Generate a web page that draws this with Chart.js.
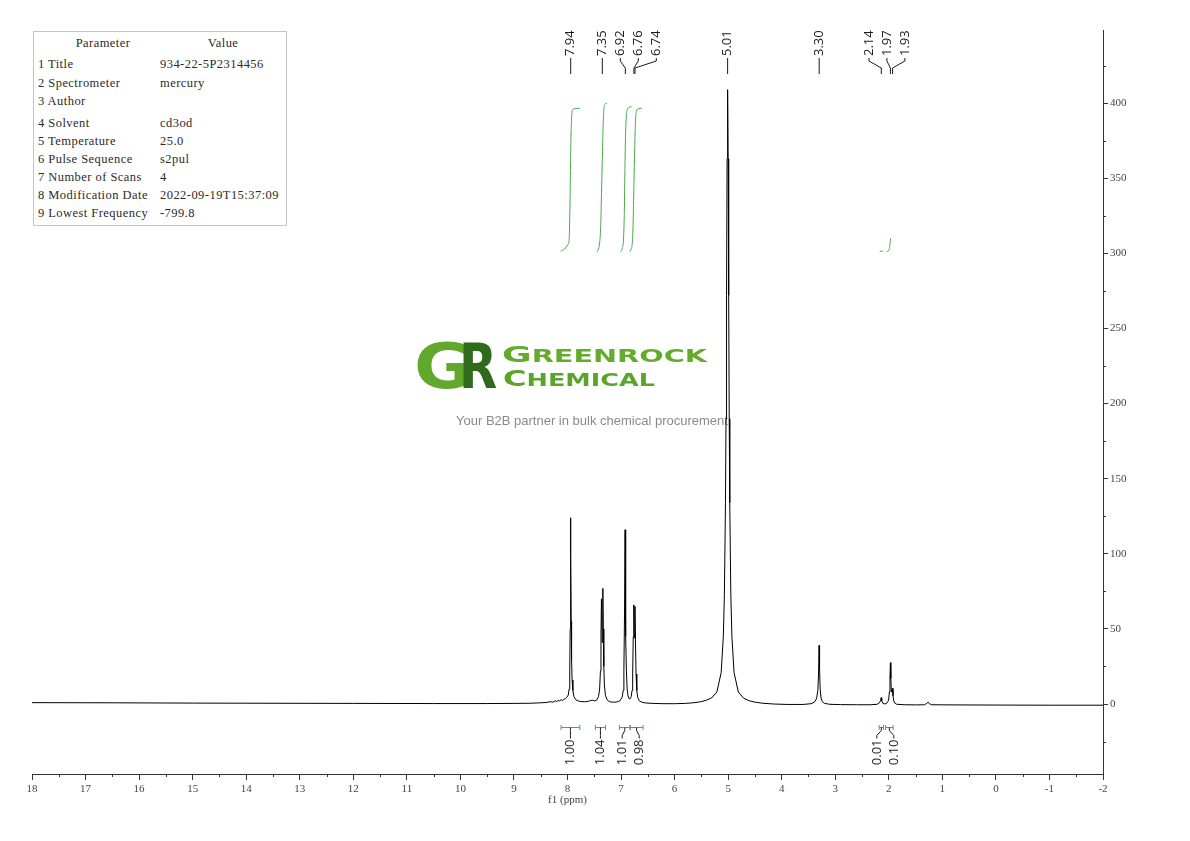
<!DOCTYPE html>
<html>
<head>
<meta charset="utf-8">
<title>1H NMR - 934-22-5P2314456</title>
<style>
    body { margin: 0; background: #fff; overflow: hidden; }
    #wrap { position: relative; width: 1190px; height: 841px; }
    #params {
        position: absolute; left: 33px; top: 31px; width: 252px;
        border: 1px solid #c4c4c4; background: #fff;
        font-family: "Liberation Serif", serif; font-size: 12.5px; letter-spacing: 0.45px;
        color: #2a2a2a; padding-bottom: 3px;
    }
    #params .row { display: flex; height: 18px; line-height: 18px; white-space: nowrap; }
    #params .name { width: 122px; padding-left: 4px; }
    #params .head .name { text-align: center; padding-left: 12px; width: 114px; }
    #params .head .val { text-align: center; flex: 1; }
    #params .head { height: 22px; line-height: 22px; }
    #params .first { height: 20px; line-height: 20px; }
    #params .gap { height: 22px; line-height: 18px; padding-top: 4px; box-sizing: border-box; }
    #nmr { position: absolute; left: 0; top: 0; }
</style>
<script src="https://cdn.jsdelivr.net/npm/chart.js"></script>
</head>
<body>
<div id="wrap">
    <canvas id="nmr" width="1190" height="841"></canvas>
    <div id="params"></div>
</div>

<script>
// acquisition parameters
const paramNames = ['Title', 'Spectrometer', 'Author', 'Solvent', 'Temperature',
    'Pulse Sequence', 'Number of Scans', 'Modification Date', 'Lowest Frequency'];
const paramValues = ['934-22-5P2314456', 'mercury', '', 'cd3od', '25.0',
    's2pul', '4', '2022-09-19T15:37:09', '-799.8'];

// axis ranges (ppm, intensity)
const xRange = [-2, 18];
const yRange = [-46.6, 448.7];

// spectrum (ppm, intensity)
const shifts = [
    18.00, 16.50, 15.00, 13.50, 12.00, 10.50, 9.50, 9.00, 8.70, 8.50, 8.40, 8.32, 8.27, 8.23, 8.20, 8.17, 8.15, 8.12, 8.10, 8.07,
    8.04, 8.01, 7.985, 7.970, 7.958, 7.950, 7.945, 7.941, 7.937, 7.931, 7.924, 7.914, 7.90, 7.88, 7.85, 7.80, 7.75, 7.68, 7.62, 7.57,
    7.53, 7.49, 7.45, 7.42, 7.40, 7.385, 7.375, 7.366, 7.353, 7.340, 7.332, 7.322, 7.31, 7.29, 7.26, 7.22, 7.16, 7.08, 7.02, 6.98,
    6.96, 6.947, 6.935, 6.925, 6.918, 6.910, 6.900, 6.886, 6.870, 6.850, 6.830, 6.810, 6.795, 6.783, 6.772, 6.762, 6.751, 6.740, 6.731, 6.720,
    6.706, 6.690, 6.66, 6.62, 6.55, 6.40, 6.20, 6.00, 5.80, 5.65, 5.51, 5.41, 5.31, 5.21, 5.13, 5.09, 5.07, 5.05, 5.04, 5.03,
    5.02, 5.01, 5.00, 4.99, 4.98, 4.97, 4.95, 4.93, 4.89, 4.81, 4.71, 4.61, 4.51, 4.35, 4.15, 3.90, 3.60, 3.45, 3.39, 3.35,
    3.325, 3.312, 3.302, 3.293, 3.282, 3.265, 3.24, 3.20, 3.10, 2.90, 2.60, 2.35, 2.22, 2.175, 2.155, 2.143, 2.132, 2.11, 2.07, 2.03,
    2.005, 1.988, 1.978, 1.970, 1.962, 1.952, 1.942, 1.932, 1.922, 1.908, 1.89, 1.85, 1.70, 1.50, 1.33, 1.29, 1.265, 1.24, 1.20, 0.80,
    0.00, -1.00, -2.00
];
const intensities = [
    0.9, 0.8, 0.6, 0.5, 0.4, 0.3, 0.3, 0.4, 0.5, 0.8, 1.0, 1.5, 1.2, 2.2, 1.6, 2.6, 1.8, 3.0, 2.2, 3.2,
    3.5, 4.5, 6, 10, 22, 50, 95, 124, 98, 55, 30, 16, 9, 5, 3, 2, 1.6, 1.5, 1.7, 2.3,
    2.5, 2.0, 2.8, 5, 10, 22, 45, 70, 41, 77, 50, 25, 12, 5.5, 2.8, 1.6, 1.2, 1.3, 2.2, 4.5,
    9, 22, 60, 116, 85, 45, 22, 10, 5.5, 3.5, 3.5, 5, 9, 20, 45, 66, 44, 65, 42, 20,
    9, 4.5, 2.2, 1.3, 0.7, 0.4, 0.2, 0.2, 0.4, 0.8, 1.5, 2.5, 4, 8, 21, 45, 73, 134, 190, 272,
    363, 409, 363, 272, 190, 134, 73, 45, 21, 8, 3.8, 2.2, 1.3, 0.5, 0, -0.3, -0.3, 0.2, 1.2, 3.5,
    9, 20, 39, 24, 10, 4, 1.5, 0.4, -0.2, -0.4, -0.5, -0.5, -0.2, 0.8, 2.2, 4.2, 2, 0.4, 0, 0.8,
    2.5, 8, 18, 27.5, 17, 8, 8.5, 10.4, 5.5, 2.2, 0.6, -0.2, -0.5, -0.6, -0.5, 0.5, 1.2, 0.1, -0.5, -0.6,
    -0.7, -0.8, -0.8
];

// picked peaks (ppm)
const peakLabels = [7.94, 7.35, 6.92, 6.76, 6.74, 5.01, 3.30, 2.14, 1.97, 1.93];

// integration regions and values
const integralStart = [8.12, 7.48, 7.03, 6.83, 2.18, 2.06];
const integralEnd = [7.77, 7.29, 6.83, 6.59, 2.10, 1.92];
const integralValues = [1.00, 1.04, 1.01, 0.98, 0.01, 0.10];

// integral curves (ppm, level on the intensity scale)
const integralTraceShifts = [
    [8.13, 8.05, 7.99, 7.97, 7.955, 7.945, 7.935, 7.92, 7.91, 7.87, 7.77],
    [7.45, 7.42, 7.40, 7.38, 7.365, 7.35, 7.335, 7.32, 7.30, 7.26],
    [7.01, 6.98, 6.955, 6.94, 6.928, 6.915, 6.90, 6.88, 6.85, 6.80],
    [6.84, 6.81, 6.79, 6.775, 6.76, 6.745, 6.73, 6.715, 6.68, 6.61],
    [2.17, 2.11],
    [2.04, 2.00, 1.985, 1.975, 1.968, 1.962]
];
const integralTraceLevels = [
    [301.5, 303, 306, 309, 330, 355, 378, 392, 395.5, 396.3, 396.6],
    [301, 303, 307, 318, 340, 362, 385, 396, 399.3, 400],
    [301, 303, 309, 325, 355, 380, 392, 396, 397.2, 397.7],
    [301, 303, 307, 320, 345, 370, 388, 394.5, 396.2, 396.7],
    [301.3, 301.6],
    [301.2, 302, 304, 307, 309.5, 310.3]
];

// ---- parameter table ----
const box = document.getElementById('params');
let html = '<div class="row head"><span class="name">Parameter</span><span class="val">Value</span></div>';
paramNames.forEach((name, i) => {
    const cls = i === 0 ? 'row first' : (i === 3 ? 'row gap' : 'row');
    html += `<div class="${cls}"><span class="name">${i + 1} ${name}</span><span class="val">${paramValues[i]}</span></div>`;
});
box.innerHTML = html;

// ---- chart ----
const green = '#4aa84a';

const spectrum = shifts.map((s, i) => ({ x: s, y: intensities[i] }));
const integralSets = integralTraceShifts.map((xs, k) => ({
    data: xs.map((s, i) => ({ x: s, y: integralTraceLevels[k][i] })),
    borderColor: green,
    borderWidth: 1,
    pointRadius: 0,
    cubicInterpolationMode: 'monotone'
}));

// spread overlapping labels apart, keeping clusters centred on their peaks
function spreadLabels(naturals, gap) {
    const pos = [];
    let i = 0;
    while (i < naturals.length) {
        let j = i;
        while (j + 1 < naturals.length && naturals[j + 1] - naturals[j] < gap) j++;
        const n = j - i + 1;
        let start = (naturals[i] + naturals[j]) / 2 - (n - 1) * gap / 2;
        if (pos.length) start = Math.max(start, pos[pos.length - 1] + gap);
        for (let k = 0; k < n; k++) pos.push(start + k * gap);
        i = j + 1;
    }
    return pos;
}

function drawWatermark(ctx) {
    ctx.save();
    ctx.textBaseline = 'alphabetic';
    ctx.textAlign = 'left';
    ctx.font = 'bold 62px "DejaVu Sans"';
    ctx.save();
    ctx.translate(414, 388);
    ctx.scale(1.15, 1);
    ctx.fillStyle = '#62a82c';
    ctx.fillText('G', 0, 0);
    ctx.restore();
    ctx.save();
    ctx.translate(459, 388);
    ctx.scale(0.8, 1);
    ctx.fillStyle = '#2f6a1d';
    ctx.fillText('R', 0, 0);
    ctx.restore();

    function wordmark(first, rest, x, base, width, color) {
        ctx.save();
        ctx.fillStyle = color;
        ctx.font = 'bold 22px "DejaVu Sans"';
        const w1 = ctx.measureText(first).width;
        ctx.font = 'bold 17.5px "DejaVu Sans"';
        const w2 = ctx.measureText(rest).width;
        ctx.translate(x, base);
        ctx.scale(width / (w1 + w2), 1);
        ctx.font = 'bold 22px "DejaVu Sans"';
        ctx.fillText(first, 0, 0);
        ctx.font = 'bold 17.5px "DejaVu Sans"';
        ctx.fillText(rest, w1, 0);
        ctx.restore();
    }
    wordmark('G', 'REENROCK', 502, 362, 205, '#64ab2b');
    wordmark('C', 'HEMICAL', 503, 386, 152, '#5aa42a');

    ctx.font = '13px "Liberation Sans"';
    ctx.fillStyle = '#8a8a8a';
    ctx.fillText('Your B2B partner in bulk chemical procurement.', 456, 425);
    ctx.restore();
}

const nmrAnnotations = {
    id: 'nmrAnnotations',
    beforeDatasetsDraw(chart) {
        drawWatermark(chart.ctx);
    },
    afterDatasetsDraw(chart) {
        const ctx = chart.ctx;
        const xs = chart.scales.x, ys = chart.scales.y;
        const area = chart.chartArea;
        ctx.save();

        // minor ticks
        ctx.strokeStyle = '#333';
        ctx.lineWidth = 1;
        ctx.beginPath();
        xs.ticks.forEach(t => {
            if (Number.isInteger(t.value)) return;
            const px = Math.round(xs.getPixelForValue(t.value)) + 0.5;
            ctx.moveTo(px, area.bottom);
            ctx.lineTo(px, area.bottom + 3);
        });
        ys.ticks.forEach(t => {
            if (t.value % 50 === 0) return;
            const py = Math.round(ys.getPixelForValue(t.value)) + 0.5;
            ctx.moveTo(area.right, py);
            ctx.lineTo(area.right + 3, py);
        });
        ctx.stroke();

        // peak labels on top
        ctx.font = '13px "Open Sans"';
        ctx.fillStyle = '#1a1a1a';
        ctx.strokeStyle = '#1a1a1a';
        const peakPx = peakLabels.map(p => xs.getPixelForValue(p));
        const peakPos = spreadLabels(peakPx, 18);
        const top = area.top;
        peakLabels.forEach((p, i) => {
            const px = peakPx[i], lx = peakPos[i];
            ctx.beginPath();
            ctx.moveTo(lx, top + 28);
            ctx.lineTo(lx, top + 31);
            ctx.lineTo(px, top + 38);
            ctx.lineTo(px, top + 44);
            ctx.stroke();
            ctx.save();
            ctx.translate(lx, top + 26);
            ctx.rotate(-Math.PI / 2);
            ctx.textAlign = 'left';
            ctx.textBaseline = 'middle';
            ctx.fillText(p.toFixed(2), 0, 0);
            ctx.restore();
        });

        // integral brackets and values below the baseline
        const by = area.bottom - 46.5;
        const mids = integralValues.map((v, i) =>
            (xs.getPixelForValue(integralStart[i]) + xs.getPixelForValue(integralEnd[i])) / 2);
        const intPos = spreadLabels(mids, 17);
        integralValues.forEach((v, i) => {
            const x1 = xs.getPixelForValue(integralStart[i]);
            const x2 = xs.getPixelForValue(integralEnd[i]);
            ctx.strokeStyle = green;
            ctx.beginPath();
            ctx.moveTo(x1, by); ctx.lineTo(x2, by);
            ctx.moveTo(x1, by - 2.5); ctx.lineTo(x1, by + 2.5);
            ctx.moveTo(x2, by - 2.5); ctx.lineTo(x2, by + 2.5);
            ctx.stroke();
            const lx = intPos[i];
            ctx.strokeStyle = '#1a1a1a';
            ctx.beginPath();
            ctx.moveTo(mids[i], by);
            ctx.lineTo(mids[i], by + 3);
            ctx.lineTo(lx, by + 8);
            ctx.lineTo(lx, by + 11);
            ctx.stroke();
            ctx.save();
            ctx.translate(lx, by + 12);
            ctx.rotate(-Math.PI / 2);
            ctx.textAlign = 'right';
            ctx.textBaseline = 'middle';
            ctx.fillText(v.toFixed(2), 0, 0);
            ctx.restore();
        });
        ctx.restore();
    }
};

Chart.defaults.font.family = '"Liberation Serif", serif';

new Chart(document.getElementById('nmr'), {
    type: 'line',
    data: {
        datasets: [{
            data: spectrum,
            borderColor: '#000',
            borderWidth: 1,
            pointRadius: 0,
            tension: 0
        }, ...integralSets]
    },
    options: {
        responsive: false,
        animation: false,
        parsing: true,
        layout: { padding: { left: 32, top: 30, right: 0, bottom: 0 } },
        plugins: { legend: { display: false }, tooltip: { enabled: false } },
        scales: {
            x: {
                type: 'linear',
                reverse: true,
                min: xRange[0],
                max: xRange[1],
                afterBuildTicks: s => { s.ticks = s.ticks.filter(t => Math.abs(t.value * 2 - Math.round(t.value * 2)) < 1e-6); },
                afterFit: s => { s.height = 67; },
                ticks: {
                    stepSize: 0.5,
                    autoSkip: false,
                    maxRotation: 0,
                    padding: 3,
                    color: '#444',
                    font: { size: 11 },
                    callback: v => Number.isInteger(v) ? String(v) : ''
                },
                grid: {
                    drawOnChartArea: false,
                    tickLength: 6,
                    tickColor: c => (c.tick && Number.isInteger(c.tick.value)) ? '#333' : 'rgba(0,0,0,0)'
                },
                border: { color: '#333', width: 1 },
                title: {
                    display: true,
                    text: 'f1 (ppm)',
                    color: '#444',
                    font: { size: 11 },
                    padding: { top: 0, bottom: 34 }
                }
            },
            y: {
                type: 'linear',
                position: 'right',
                min: yRange[0],
                max: yRange[1],
                afterBuildTicks: s => { s.ticks = s.ticks.filter(t => t.value % 25 === 0); },
                afterFit: s => { s.width = 87; },
                ticks: {
                    stepSize: 25,
                    padding: 2,
                    color: '#444',
                    font: { size: 11 },
                    callback: v => v % 50 === 0 ? String(v) : ''
                },
                grid: {
                    drawOnChartArea: false,
                    tickLength: 5,
                    tickColor: c => (c.tick && c.tick.value % 50 === 0) ? '#333' : 'rgba(0,0,0,0)'
                },
                border: { color: '#333', width: 1 }
            }
        }
    },
    plugins: [nmrAnnotations]
});
</script>
</body>
</html>
